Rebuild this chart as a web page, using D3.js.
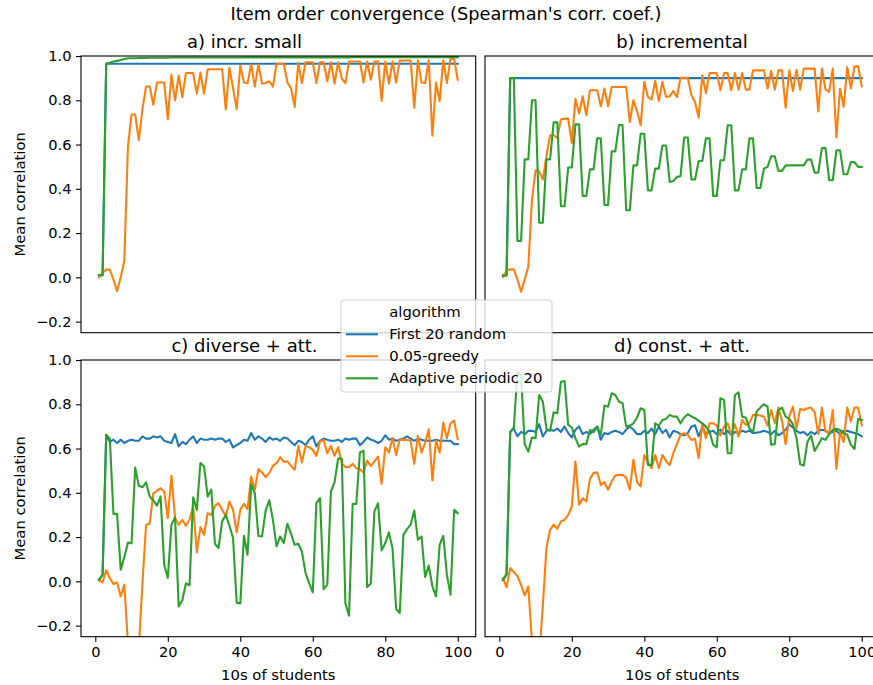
<!DOCTYPE html>
<html>
<head>
<meta charset="utf-8">
<script src="https://cdn.jsdelivr.net/npm/d3@7"></script>
<style>
    body { margin: 0; background: #fff; }
    svg { display: block; font-family: "DejaVu Sans", sans-serif; }
</style>
</head>
<body>
<div id="chart"></div>
<script>
// Item order convergence - 4 panneaux, 3 algorithmes

const algorithms = ['First 20 random', '0.05-greedy', 'Adaptive periodic 20'];
const colors = ['#1f77b4', '#ff7f0e', '#2ca02c'];
const panelTitles = ['a) incr. small', 'b) incremental', 'c) diverse + att.', 'd) const. + att.'];
const xTicks = [0, 20, 40, 60, 80, 100];
const yTicks = [-0.2, 0.0, 0.2, 0.4, 0.6, 0.8, 1.0];
const students = d3.range(1, 101);

// a) incr. small
const incrSmallRandom = [
    0.01, 0.01, 0.965, 0.965, 0.965, 0.965, 0.965, 0.965, 0.965, 0.965,
    0.965, 0.965, 0.965, 0.965, 0.965, 0.965, 0.965, 0.965, 0.965, 0.965,
    0.965, 0.965, 0.965, 0.965, 0.965, 0.965, 0.965, 0.965, 0.965, 0.965,
    0.965, 0.965, 0.965, 0.965, 0.965, 0.965, 0.965, 0.965, 0.965, 0.965,
    0.965, 0.965, 0.965, 0.965, 0.965, 0.965, 0.965, 0.965, 0.965, 0.965,
    0.965, 0.965, 0.965, 0.965, 0.965, 0.965, 0.965, 0.965, 0.965, 0.965,
    0.965, 0.965, 0.965, 0.965, 0.965, 0.965, 0.965, 0.965, 0.965, 0.965,
    0.965, 0.965, 0.965, 0.965, 0.965, 0.965, 0.965, 0.965, 0.965, 0.965,
    0.965, 0.965, 0.965, 0.965, 0.965, 0.965, 0.965, 0.965, 0.965, 0.965,
    0.965, 0.965, 0.965, 0.965, 0.965, 0.965, 0.965, 0.965, 0.965, 0.965
];
const incrSmallGreedy = [
    0.0, 0.02, 0.035, 0.035, -0.01, -0.062, 0.0, 0.075, 0.59, 0.736,
    0.736, 0.62, 0.76, 0.862, 0.862, 0.78, 0.88, 0.88, 0.88, 0.714,
    0.915, 0.80, 0.912, 0.815, 0.923, 0.923, 0.923, 0.83, 0.925, 0.83,
    0.94, 0.94, 0.94, 0.94, 0.94, 0.76, 0.947, 0.855, 0.76, 0.957,
    0.88, 0.877, 0.962, 0.862, 0.962, 0.875, 0.878, 0.886, 0.862, 0.965,
    0.965, 0.965, 0.88, 0.855, 0.77, 0.968, 0.878, 0.972, 0.972, 0.972,
    0.878, 0.972, 0.972, 0.886, 0.972, 0.875, 0.972, 0.897, 0.878, 0.975,
    0.975, 0.975, 0.975, 0.88, 0.975, 0.893, 0.975, 0.975, 0.797, 0.975,
    0.875, 0.975, 0.88, 0.98, 0.98, 0.98, 0.98, 0.766, 0.98, 0.88,
    0.878, 0.98, 0.64, 0.88, 0.797, 0.98, 0.878, 0.987, 0.987, 0.893
];
const incrSmallAdaptive = [
    0.01, 0.01, 0.965, 0.970, 0.975, 0.978, 0.982, 0.986, 0.990, 0.990,
    0.990, 0.991, 0.991, 0.991, 0.992, 0.992, 0.992, 0.992, 0.992, 0.992,
    0.993, 0.993, 0.993, 0.993, 0.993, 0.993, 0.993, 0.993, 0.993, 0.993,
    0.993, 0.993, 0.993, 0.993, 0.993, 0.993, 0.993, 0.993, 0.993, 0.993,
    0.994, 0.994, 0.994, 0.994, 0.994, 0.994, 0.994, 0.994, 0.994, 0.994,
    0.994, 0.994, 0.994, 0.994, 0.994, 0.994, 0.994, 0.994, 0.994, 0.994,
    0.994, 0.994, 0.994, 0.994, 0.994, 0.994, 0.994, 0.994, 0.994, 0.994,
    0.995, 0.995, 0.995, 0.995, 0.995, 0.995, 0.995, 0.995, 0.995, 0.995,
    0.995, 0.995, 0.995, 0.995, 0.995, 0.995, 0.995, 0.995, 0.995, 0.995,
    0.995, 0.995, 0.995, 0.995, 0.995, 0.995, 0.995, 0.995, 0.995, 0.995
];

// b) incremental
const incrementalRandom = [
    0.01, 0.01, 0.9, 0.9, 0.9, 0.9, 0.9, 0.9, 0.9, 0.9,
    0.9, 0.9, 0.9, 0.9, 0.9, 0.9, 0.9, 0.9, 0.9, 0.9,
    0.9, 0.9, 0.9, 0.9, 0.9, 0.9, 0.9, 0.9, 0.9, 0.9,
    0.9, 0.9, 0.9, 0.9, 0.9, 0.9, 0.9, 0.9, 0.9, 0.9,
    0.9, 0.9, 0.9, 0.9, 0.9, 0.9, 0.9, 0.9, 0.9, 0.9,
    0.9, 0.9, 0.9, 0.9, 0.9, 0.9, 0.9, 0.9, 0.9, 0.9,
    0.9, 0.9, 0.9, 0.9, 0.9, 0.9, 0.9, 0.9, 0.9, 0.9,
    0.9, 0.9, 0.9, 0.9, 0.9, 0.9, 0.9, 0.9, 0.9, 0.9,
    0.9, 0.9, 0.9, 0.9, 0.9, 0.9, 0.9, 0.9, 0.9, 0.9,
    0.9, 0.9, 0.9, 0.9, 0.9, 0.9, 0.9, 0.9, 0.9, 0.9
];
const incrementalGreedy = [
    0.003, 0.03, 0.036, 0.036, -0.01, -0.065, -0.01, 0.048, 0.35, 0.484,
    0.477, 0.442, 0.547, 0.642, 0.642, 0.63, 0.713, 0.717, 0.717, 0.607,
    0.806, 0.74, 0.818, 0.732, 0.845, 0.845, 0.845, 0.773, 0.853, 0.773,
    0.86, 0.86, 0.86, 0.86, 0.86, 0.702, 0.80, 0.75, 0.687, 0.883,
    0.815, 0.803, 0.887, 0.797, 0.883, 0.815, 0.818, 0.842, 0.815, 0.902,
    0.902, 0.902, 0.823, 0.792, 0.722, 0.913, 0.833, 0.923, 0.923, 0.923,
    0.845, 0.923, 0.923, 0.845, 0.923, 0.848, 0.923, 0.848, 0.848, 0.935,
    0.935, 0.935, 0.935, 0.853, 0.932, 0.848, 0.935, 0.935, 0.767, 0.935,
    0.842, 0.938, 0.848, 0.943, 0.943, 0.943, 0.943, 0.75, 0.943, 0.848,
    0.838, 0.943, 0.632, 0.853, 0.77, 0.95, 0.853, 0.953, 0.953, 0.863
];
const incrementalAdaptive = [
    0.007, 0.007, 0.9, 0.9, 0.165, 0.165, 0.533, 0.533, 0.80, 0.80,
    0.247, 0.247, 0.533, 0.533, 0.70, 0.70, 0.321, 0.321, 0.496, 0.496,
    0.691, 0.691, 0.368, 0.368, 0.488, 0.488, 0.628, 0.628, 0.327, 0.327,
    0.569, 0.569, 0.688, 0.688, 0.303, 0.303, 0.506, 0.506, 0.649, 0.649,
    0.393, 0.393, 0.491, 0.491, 0.596, 0.596, 0.431, 0.435, 0.454, 0.457,
    0.632, 0.632, 0.442, 0.442, 0.526, 0.526, 0.628, 0.628, 0.368, 0.368,
    0.529, 0.529, 0.687, 0.687, 0.393, 0.393, 0.488, 0.488, 0.628, 0.628,
    0.404, 0.404, 0.491, 0.499, 0.547, 0.547, 0.481, 0.481, 0.506, 0.506,
    0.506, 0.506, 0.506, 0.506, 0.532, 0.532, 0.473, 0.473, 0.584, 0.584,
    0.439, 0.439, 0.574, 0.574, 0.466, 0.466, 0.521, 0.521, 0.499, 0.499
];

// c) diverse + att.
const diverseRandom = [
    0.005, 0.03, 0.66, 0.63, 0.64, 0.625, 0.64, 0.625, 0.635, 0.64,
    0.635, 0.635, 0.655, 0.645, 0.645, 0.655, 0.65, 0.655, 0.635, 0.63,
    0.625, 0.665, 0.61, 0.63, 0.62, 0.64, 0.655, 0.625, 0.645, 0.64,
    0.64, 0.645, 0.64, 0.645, 0.645, 0.63, 0.64, 0.605, 0.615, 0.625,
    0.64, 0.635, 0.67, 0.64, 0.655, 0.645, 0.63, 0.65, 0.64, 0.645,
    0.635, 0.65, 0.645, 0.63, 0.615, 0.635, 0.63, 0.615, 0.64, 0.655,
    0.61, 0.635, 0.645, 0.64, 0.635, 0.635, 0.64, 0.63, 0.645, 0.64,
    0.645, 0.645, 0.615, 0.63, 0.65, 0.64, 0.635, 0.625, 0.635, 0.66,
    0.64, 0.645, 0.635, 0.64, 0.645, 0.655, 0.645, 0.635, 0.645, 0.64,
    0.635, 0.635, 0.635, 0.64, 0.635, 0.635, 0.635, 0.635, 0.62, 0.62
];
const diverseGreedy = [
    0.005, -0.005, 0.05, 0.015, -0.012, -0.005, -0.068, -0.015, -0.28, -0.45,
    -0.45, -0.3, -0.01, 0.256, 0.26, 0.398, 0.409, 0.421, 0.406, 0.286,
    0.477, 0.286, 0.256, 0.278, 0.251, 0.278, 0.338, 0.131, 0.245, 0.21,
    0.308, 0.30, 0.341, 0.353, 0.323, 0.293, 0.361, 0.323, 0.221, 0.323,
    0.35, 0.326, 0.474, 0.414, 0.507, 0.492, 0.471, 0.489, 0.522, 0.534,
    0.561, 0.541, 0.541, 0.522, 0.504, 0.612, 0.537, 0.612, 0.606, 0.594,
    0.567, 0.632, 0.639, 0.579, 0.612, 0.567, 0.606, 0.534, 0.516, 0.516,
    0.531, 0.511, 0.507, 0.492, 0.546, 0.522, 0.541, 0.564, 0.441, 0.606,
    0.582, 0.647, 0.571, 0.642, 0.639, 0.639, 0.635, 0.531, 0.657, 0.582,
    0.627, 0.687, 0.456, 0.636, 0.582, 0.717, 0.647, 0.714, 0.726, 0.642
];
const diverseAdaptive = [
    0.008, 0.03, 0.662, 0.645, 0.305, 0.305, 0.053, 0.11, 0.175, 0.172,
    0.514, 0.432, 0.425, 0.447, 0.383, 0.366, 0.342, 0.383, 0.075, 0.015,
    0.256, 0.29, -0.113, -0.085, -0.009, -0.018, 0.38, 0.323, 0.535, 0.519,
    0.383, 0.415, 0.17, 0.15, 0.272, 0.30, 0.252, 0.196, -0.096, -0.1,
    0.206, 0.12, 0.438, 0.4, 0.205, 0.203, 0.321, 0.366, 0.278, 0.158,
    0.203, 0.173, 0.26, 0.215, 0.165, 0.17, 0.135, 0.038, -0.008, -0.05,
    0.355, 0.376, -0.035, -0.015, 0.406, 0.447, 0.555, 0.555, -0.1, -0.155,
    0.35, 0.35, 0.582, 0.59, -0.027, -0.01, 0.316, 0.353, 0.14, 0.173,
    0.221, 0.15, -0.125, -0.143, 0.21, 0.236, 0.256, 0.32, 0.188, 0.203,
    0.02, 0.071, -0.023, -0.068, 0.165, 0.206, 0.03, -0.06, 0.323, 0.308
];

// d) const. + att.
const constRandom = [
    0.005, 0.03, 0.675, 0.69, 0.655, 0.675, 0.665, 0.68, 0.68, 0.675,
    0.71, 0.655, 0.68, 0.685, 0.68, 0.69, 0.675, 0.70, 0.67, 0.65,
    0.685, 0.70, 0.665, 0.675, 0.665, 0.685, 0.70, 0.64, 0.67, 0.665,
    0.675, 0.68, 0.675, 0.665, 0.685, 0.70, 0.685, 0.665, 0.665, 0.68,
    0.67, 0.69, 0.665, 0.70, 0.67, 0.685, 0.65, 0.68, 0.675, 0.665,
    0.66, 0.67, 0.70, 0.705, 0.655, 0.695, 0.665, 0.675, 0.68, 0.665,
    0.685, 0.665, 0.68, 0.66, 0.675, 0.67, 0.68, 0.675, 0.68, 0.67,
    0.672, 0.675, 0.68, 0.675, 0.665, 0.68, 0.66, 0.67, 0.685, 0.71,
    0.695, 0.68, 0.67, 0.675, 0.66, 0.675, 0.665, 0.68, 0.685, 0.68,
    0.67, 0.675, 0.68, 0.665, 0.68, 0.68, 0.675, 0.67, 0.665, 0.655
];
const constGreedy = [
    0.015, -0.027, 0.06, 0.042, 0.023, -0.015, -0.063, -0.023, -0.27, -0.5,
    -0.35, -0.11, 0.15, 0.233, 0.256, 0.238, 0.271, 0.278, 0.30, 0.338,
    0.541, 0.346, 0.376, 0.361, 0.463, 0.489, 0.493, 0.436, 0.448, 0.414,
    0.451, 0.478, 0.481, 0.481, 0.469, 0.414, 0.549, 0.448, 0.429, 0.571,
    0.538, 0.511, 0.571, 0.511, 0.571, 0.544, 0.526, 0.579, 0.62, 0.662,
    0.669, 0.662, 0.639, 0.644, 0.556, 0.714, 0.647, 0.714, 0.714, 0.704,
    0.659, 0.699, 0.714, 0.662, 0.71, 0.654, 0.729, 0.707, 0.714, 0.752,
    0.752, 0.749, 0.744, 0.704, 0.774, 0.714, 0.785, 0.725, 0.62, 0.744,
    0.789, 0.692, 0.779, 0.774, 0.782, 0.785, 0.764, 0.665, 0.785, 0.677,
    0.669, 0.774, 0.508, 0.677, 0.629, 0.785, 0.722, 0.785, 0.785, 0.704
];
const constAdaptive = [
    0.008, 0.033, 0.674, 0.695, 0.95, 0.93, 0.62, 0.586, 0.65, 0.647,
    0.842, 0.812, 0.689, 0.68, 0.764, 0.759, 0.902, 0.905, 0.707, 0.695,
    0.647, 0.609, 0.62, 0.62, 0.684, 0.674, 0.699, 0.662, 0.794, 0.789,
    0.85, 0.842, 0.812, 0.805, 0.699, 0.704, 0.714, 0.74, 0.782, 0.774,
    0.526, 0.526, 0.714, 0.704, 0.729, 0.734, 0.752, 0.744, 0.744, 0.714,
    0.74, 0.755, 0.745, 0.737, 0.725, 0.714, 0.699, 0.677, 0.617, 0.605,
    0.827, 0.82, 0.579, 0.579, 0.842, 0.854, 0.744, 0.74, 0.692, 0.674,
    0.767, 0.785, 0.80, 0.79, 0.617, 0.62, 0.774, 0.785, 0.744, 0.734,
    0.71, 0.647, 0.529, 0.523, 0.629, 0.659, 0.589, 0.617, 0.647, 0.639,
    0.665, 0.684, 0.689, 0.684, 0.669, 0.662, 0.617, 0.598, 0.734, 0.729
];

const panelSeries = [
    [incrSmallRandom, incrSmallGreedy, incrSmallAdaptive],
    [incrementalRandom, incrementalGreedy, incrementalAdaptive],
    [diverseRandom, diverseGreedy, diverseAdaptive],
    [constRandom, constGreedy, constAdaptive]
];

// Mise en page (pixels)
const W = 873, H = 685;
const plotW = 394.7, plotH = 276.7;
const lefts = [81, 485];
const tops = [56, 360];
const titleCenters = [244.5, 682];

const svg = d3.select('#chart')
    .append('svg')
    .attr('width', W)
    .attr('height', H);

svg.append('rect').attr('width', W).attr('height', H).attr('fill', '#fff');

const x = d3.scaleLinear().domain([-3.95, 104.95]).range([0, plotW]);
const y = d3.scaleLinear().domain([-0.25, 1.0]).range([plotH, 0]);
const fmt = d3.format('.1f');

const line = d3.line()
    .x((d, i) => x(students[i]))
    .y(d => y(d));

// Titre général
svg.append('text')
    .attr('x', 446)
    .attr('y', 20)
    .attr('text-anchor', 'middle')
    .style('font-size', '17.8px')
    .style('fill', '#000')
    .text("Item order convergence (Spearman's corr. coef.)");

panelTitles.forEach((title, p) => {
    const col = p % 2, row = Math.floor(p / 2);
    const left = lefts[col], top = tops[row];

    const g = svg.append('g').attr('transform', `translate(${left}, ${top})`);

    g.append('clipPath')
        .attr('id', `clip-${p}`)
        .append('rect')
        .attr('width', plotW)
        .attr('height', plotH);

    // Courbes
    const lines = g.append('g').attr('clip-path', `url(#clip-${p})`);
    panelSeries[p].forEach((values, s) => {
        lines.append('path')
            .datum(values)
            .attr('d', line)
            .attr('fill', 'none')
            .attr('stroke', colors[s])
            .attr('stroke-width', 2.1)
            .attr('stroke-linejoin', 'round')
            .attr('stroke-linecap', 'square');
    });

    // Cadre
    g.append('rect')
        .attr('width', plotW)
        .attr('height', plotH)
        .attr('fill', 'none')
        .attr('stroke', '#000')
        .attr('stroke-width', 1.1);

    // Titre du panneau
    svg.append('text')
        .attr('x', titleCenters[col])
        .attr('y', top - 8.5)
        .attr('text-anchor', 'middle')
        .style('font-size', '18px')
        .style('fill', '#000')
        .text(title);

    // Axe Y (colonne de gauche)
    if (col === 0) {
        const yAxis = d3.axisLeft(y).tickValues(yTicks).tickFormat(fmt).tickSize(5).tickPadding(4.5);
        const ya = g.append('g').call(yAxis);
        ya.select('.domain').remove();
        ya.selectAll('line').attr('stroke', '#000').attr('stroke-width', 1.1);
        ya.selectAll('text')
            .attr('fill', '#000')
            .style('font-size', '14.6px')
            .style('font-family', '"DejaVu Sans", sans-serif');

        svg.append('text')
            .attr('transform', `translate(25, ${top + plotH / 2}) rotate(-90)`)
            .attr('text-anchor', 'middle')
            .style('font-size', '14.8px')
            .style('fill', '#000')
            .text('Mean correlation');
    }

    // Axe X (rangée du bas)
    if (row === 1) {
        const xAxis = d3.axisBottom(x).tickValues(xTicks).tickFormat(d3.format('d')).tickSize(5).tickPadding(4.5);
        const xa = g.append('g').attr('transform', `translate(0, ${plotH})`).call(xAxis);
        xa.select('.domain').remove();
        xa.selectAll('line').attr('stroke', '#000').attr('stroke-width', 1.1);
        xa.selectAll('text')
            .attr('fill', '#000')
            .style('font-size', '14.6px')
            .style('font-family', '"DejaVu Sans", sans-serif');

        svg.append('text')
            .attr('x', left + plotW / 2)
            .attr('y', 680)
            .attr('text-anchor', 'middle')
            .style('font-size', '14.8px')
            .style('fill', '#000')
            .text('10s of students');
    }
});

// Légende
const legend = svg.append('g').attr('transform', 'translate(341, 300)');

legend.append('rect')
    .attr('width', 211)
    .attr('height', 92)
    .attr('rx', 3)
    .attr('fill', '#fff')
    .attr('fill-opacity', 0.8)
    .attr('stroke', '#cccccc')
    .attr('stroke-width', 1);

legend.append('text')
    .attr('x', 48.3)
    .attr('y', 17)
    .style('font-size', '14.8px')
    .style('fill', '#000')
    .text('algorithm');

algorithms.forEach((name, i) => {
    const yy = 39.3 + i * 22;
    legend.append('line')
        .attr('x1', 5)
        .attr('x2', 37)
        .attr('y1', yy - 5)
        .attr('y2', yy - 5)
        .attr('stroke', colors[i])
        .attr('stroke-width', 2.1);
    legend.append('text')
        .attr('x', 48.3)
        .attr('y', yy)
        .style('font-size', '14.8px')
        .style('fill', '#000')
        .text(name);
});
</script>
</body>
</html>
